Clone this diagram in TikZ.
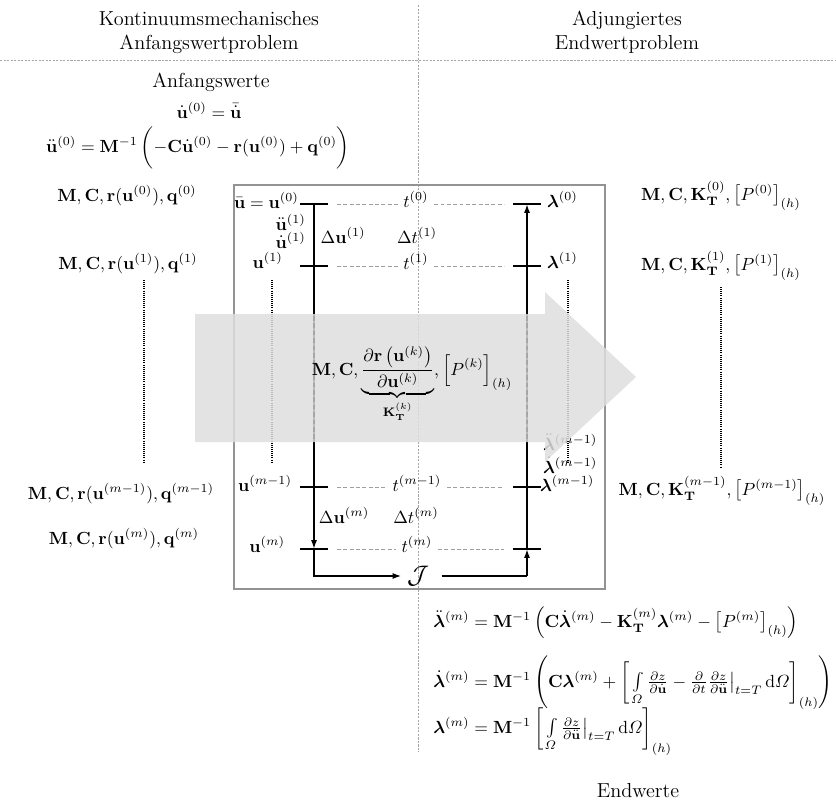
\documentclass[tikz,border=0pt]{standalone}
\usepackage{amsmath,amssymb,bm}
\usetikzlibrary{arrows.meta,calc}
\begin{document}
\begin{tikzpicture}[x=0.568pt,y=-0.568pt,
  tl/.style={line width=0.9pt},
  tickln/.style={line width=0.9pt},
  tdash/.style={gray!75,line width=0.45pt,dash pattern=on 2.2pt off 1.4pt},
  sepln/.style={gray!70,line width=0.35pt,dash pattern=on 1.2pt off 0.8pt},
  dotln/.style={line width=0.7pt,dash pattern=on 0.5pt off 0.7pt},
  ghost/.style={gray!70,line width=0.8pt,dash pattern=on 2.6pt off 1.6pt},
  arr/.style={-{Latex[length=5pt,width=3.4pt]}},
  tlab/.style={inner sep=3pt,anchor=base},
  lab/.style={inner sep=1pt},
  txt/.style={font=\fontsize{11.5}{14}\selectfont},
]
\useasboundingbox (0,0) rectangle (836,802);
% separators
\coordinate (sT) at (418,5); \coordinate (sB) at (418,752);
\coordinate (hL) at (0,60); \coordinate (hR) at (836,60);
\draw[sepln] (sT) -- (sB);
\draw[sepln] (hL) -- (hR);
% headers
\node[txt,anchor=base] (hK1) at (209,25) {Kontinuumsmechanisches};
\node[txt,anchor=base] (hK2) at (209,49) {Anfangswertproblem};
\node[txt,anchor=base] (hA1) at (627,25) {Adjungiertes};
\node[txt,anchor=base] (hA2) at (627,49) {Endwertproblem};
% initial values
\node[txt,anchor=base] (aw) at (211,87) {Anfangswerte};
\node[anchor=base] (ud0) at (209,118) {$\dot{\mathbf u}^{(0)} = \bar{\dot{\mathbf u}}$};
\node[anchor=base] (udd0) at (198,152) {$\ddot{\mathbf u}^{(0)} = \mathbf M^{-1}\,\biggl(-\mathbf C\dot{\mathbf u}^{(0)} - \mathbf r(\mathbf u^{(0)}) + \mathbf q^{(0)}\biggr)$};
% left column
\node[anchor=base] (mL0) at (127,201) {$\mathbf M,\mathbf C,\mathbf r(\mathbf u^{(0)}),\mathbf q^{(0)}$};
\node[anchor=base] (mL1) at (128,269) {$\mathbf M,\mathbf C,\mathbf r(\mathbf u^{(1)}),\mathbf q^{(1)}$};
\node[anchor=base] (mLm1) at (121,499) {$\mathbf M,\mathbf C,\mathbf r(\mathbf u^{(m-1)}),\mathbf q^{(m-1)}$};
\node[anchor=base] (mLm) at (124,544) {$\mathbf M,\mathbf C,\mathbf r(\mathbf u^{(m)}),\mathbf q^{(m)}$};
\coordinate (dLa) at (144,280); \coordinate (dLb) at (144,462);
\draw[dotln] (dLa) -- (dLb);
% right column
\node[anchor=base] (mR0) at (721,200) {$\mathbf M,\mathbf C,\mathbf K_{\mathbf T}^{(0)},\left[P^{(0)}\right]_{(h)}$};
\node[anchor=base] (mR1) at (721,270) {$\mathbf M,\mathbf C,\mathbf K_{\mathbf T}^{(1)},\left[P^{(1)}\right]_{(h)}$};
\node[anchor=base] (mRm1) at (722,495) {$\mathbf M,\mathbf C,\mathbf K_{\mathbf T}^{(m-1)},\left[P^{(m-1)}\right]_{(h)}$};
\coordinate (dRa) at (721,287); \coordinate (dRb) at (721,468);
\draw[dotln] (dRa) -- (dRb);
% box
\coordinate (bx1) at (234,185); \coordinate (bx2) at (605,589);
\draw[gray!85,line width=0.7pt] (bx1) rectangle (bx2);
% timeline coordinates
\coordinate (L0) at (314,204); \coordinate (L1) at (314,266);
\coordinate (Lm1) at (314,487); \coordinate (Lm) at (314,549);
\coordinate (Lb) at (314,576);
\coordinate (R0) at (527,204); \coordinate (R1) at (527,266);
\coordinate (Rm1) at (527,487); \coordinate (Rm) at (527,549);
\coordinate (Rb) at (527,576);
\node[inner sep=3pt] (J) at (418,576) {\Large$\mathcal J$};
% vertical lines
\draw[tl,arr] (L0) -- (Lm);
\draw[tl,arr] (Lm) -- (Lb) -- (J.west);
\draw[tl,shorten <=4pt] (J.east) -- (Rb);
\draw[tl,arr] (Rb) -- (Rm);
\draw[tl,arr] (Rm) -- (R0);
% ticks
\foreach \p in {L0,L1,Lm1,Lm,R0,R1,Rm1,Rm}{
  \draw[tickln] ($(\p)+(-14,0)$) -- ($(\p)+(14,0)$);
}
% time labels and dashed lines
\node[tlab] (t0) at (416,207) {$t^{(0)}$};
\node[tlab] (t1) at (416,269) {$t^{(1)}$};
\node[tlab] (tm1) at (417,491) {$t^{(m-1)}$};
\node[tlab] (tm) at (417,552) {$t^{(m)}$};
\draw[tdash] ($(L0)+(23,0)$) -- (t0.west |- L0);
\draw[tdash] (t0.east |- R0) -- ($(R0)+(-23,0)$);
\draw[tdash] ($(L1)+(23,0)$) -- (t1.west |- L1);
\draw[tdash] (t1.east |- R1) -- ($(R1)+(-23,0)$);
\draw[tdash] ($(Lm1)+(23,0)$) -- (tm1.west |- Lm1);
\draw[tdash] (tm1.east |- Rm1) -- ($(Rm1)+(-23,0)$);
\draw[tdash] ($(Lm)+(23,0)$) -- (tm.west |- Lm);
\draw[tdash] (tm.east |- Rm) -- ($(Rm)+(-23,0)$);
% left labels
\node[lab,anchor=base east] (lu0) at (301,208) {$\bar{\mathbf u} = \mathbf u^{(0)}$};
\node[lab,anchor=base east] (luddot1) at (308,230) {$\ddot{\mathbf u}^{(1)}$};
\node[lab,anchor=base east] (ludot1) at (308,248) {$\dot{\mathbf u}^{(1)}$};
\node[lab,anchor=base east] (lu1) at (285,268) {$\mathbf u^{(1)}$};
\node[lab,anchor=base] (du1) at (343,243) {$\Delta\mathbf u^{(1)}$};
\node[lab,anchor=base] (dt1) at (417,243) {$\Delta t^{(1)}$};
\node[lab,anchor=base east] (lum1) at (294,491) {$\mathbf u^{(m-1)}$};
\node[lab,anchor=base] (dum) at (344,523) {$\Delta\mathbf u^{(m)}$};
\node[lab,anchor=base] (dtm) at (416,523) {$\Delta t^{(m)}$};
\node[lab,anchor=base east] (lum) at (287,552) {$\mathbf u^{(m)}$};
\coordinate (diLa) at (272,280); \coordinate (diLb) at (272,462);
\draw[dotln] (diLa) -- (diLb);
% right labels
\node[lab,anchor=base west] (rl0) at (545,207) {$\bm\lambda^{(0)}$};
\node[lab,anchor=base west] (rl1) at (545,268) {$\bm\lambda^{(1)}$};
\node[lab,anchor=base west] (rlddm1) at (541,450) {$\ddot{\bm\lambda}^{(m-1)}$};
\node[lab,anchor=base west] (rldm1) at (541,473) {$\dot{\bm\lambda}^{(m-1)}$};
\node[lab,anchor=base west] (rlm1) at (538,491) {$\bm\lambda^{(m-1)}$};
\coordinate (diRa) at (568,280); \coordinate (diRb) at (568,462);
\draw[dotln] (diRa) -- (diRb);
% big transparent arrow
\fill[black!13,opacity=0.85] (195,314) -- (545,314) -- (545,292) -- (636,377) -- (545,462) -- (545,442) -- (195,442) -- cycle;
\coordinate (gLa) at (314,316); \coordinate (gLb) at (314,440);
\coordinate (gRa) at (527,316); \coordinate (gRb) at (527,440);
\draw[ghost] (gLa) -- (gLb);
\draw[ghost] (gRa) -- (gRb);
\node[anchor=base] (cen) at (412,375) {$\displaystyle \mathbf M,\mathbf C,\underbrace{\frac{\partial\mathbf r\left(\mathbf u^{(k)}\right)}{\partial\mathbf u^{(k)}}}_{\mathbf K_{\mathbf T}^{(k)}},\left[P^{(k)}\right]_{(h)}$};
% final values
\node[anchor=base west,inner sep=0pt] (e1) at (433,627) {$\ddot{\bm\lambda}^{(m)} = \mathbf M^{-1}\left(\mathbf C\dot{\bm\lambda}^{(m)} - \mathbf K_{\mathbf T}^{(m)}\bm\lambda^{(m)} - \left[P^{(m)}\right]_{(h)}\right)$};
\node[anchor=base west,inner sep=0pt] (e2) at (433,687) {$\dot{\bm\lambda}^{(m)} = \mathbf M^{-1}\left(\mathbf C\bm\lambda^{(m)} + \left[\,\int\limits_{\varOmega}\tfrac{\partial z}{\partial\dot{\mathbf u}} - \tfrac{\partial}{\partial t}\tfrac{\partial z}{\partial\ddot{\mathbf u}}\big|_{t=T}\,\mathrm d\varOmega\right]_{(h)}\right)$};
\node[anchor=base west,inner sep=0pt] (e3) at (433,733) {$\bm\lambda^{(m)} = \mathbf M^{-1}\left[\,\int\limits_{\varOmega}\tfrac{\partial z}{\partial\ddot{\mathbf u}}\big|_{t=T}\,\mathrm d\varOmega\right]_{(h)}$};
\node[txt,anchor=base] (ew) at (638,797) {Endwerte};
\end{tikzpicture}
\end{document}
